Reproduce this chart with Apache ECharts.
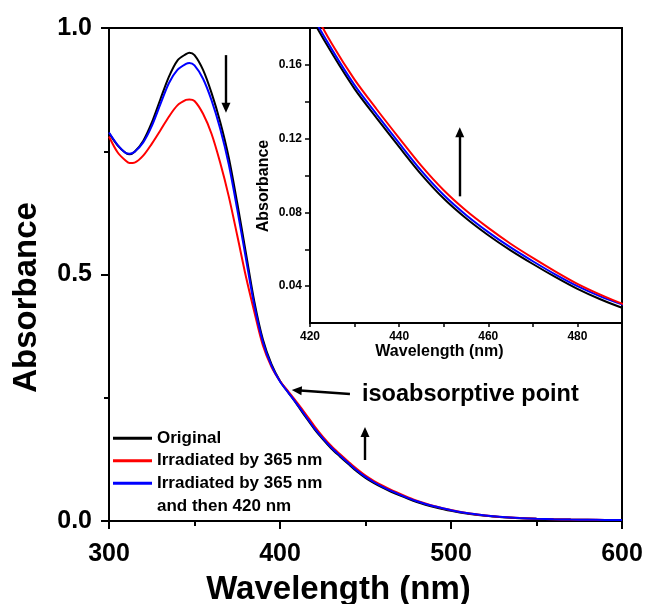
<!DOCTYPE html>
<html><head><meta charset="utf-8">
<script src="https://cdn.jsdelivr.net/npm/echarts@6/dist/echarts.min.js"></script>
<style>html,body{margin:0;padding:0;background:#fff}#c{width:646px;height:604px}</style>
</head><body><div id="c"></div>
<script>
// Wavelength (nm)
const wavelength = [300,305,310,312,315,320,325,330,335,340,345,347,350,355,360,365,370,375,380,385,390,395,400,405,410,415,420,425,430,435,440,445,450,455,460,465,470,475,480,485,490,500,510,520,530,540,550,560,570,580,590,600];
// Absorbance values
const original = [0.787,0.762,0.746,0.744,0.749,0.771,0.808,0.855,0.901,0.934,0.947,0.950,0.945,0.915,0.868,0.810,0.738,0.645,0.545,0.445,0.368,0.318,0.284,0.260,0.236,0.211,0.187,0.166,0.147,0.131,0.1155,0.1005,0.0875,0.0768,0.0676,0.0594,0.0520,0.0450,0.0385,0.0330,0.0283,0.0205,0.0145,0.0105,0.0078,0.0058,0.0045,0.0035,0.0028,0.0024,0.0021,0.0020];
const irr365 = [0.780,0.748,0.730,0.726,0.727,0.741,0.765,0.792,0.820,0.843,0.854,0.855,0.852,0.826,0.785,0.727,0.659,0.579,0.497,0.424,0.356,0.313,0.284,0.262,0.240,0.217,0.193,0.171,0.152,0.1358,0.1203,0.1052,0.0920,0.0810,0.0716,0.0630,0.0553,0.0480,0.0412,0.0355,0.0305,0.0222,0.0158,0.0113,0.0082,0.0060,0.0046,0.0036,0.0029,0.0025,0.0022,0.0021];
const irr365then420 = [0.788,0.763,0.746,0.745,0.749,0.768,0.801,0.845,0.888,0.915,0.927,0.929,0.924,0.897,0.853,0.796,0.724,0.632,0.534,0.437,0.363,0.315,0.283,0.260,0.237,0.213,0.189,0.168,0.149,0.133,0.1175,0.1025,0.0894,0.0786,0.0693,0.0610,0.0535,0.0464,0.0400,0.0346,0.0301,0.0220,0.0156,0.0112,0.0081,0.0060,0.0046,0.0036,0.0029,0.0025,0.0022,0.0021];
const seriesNames = ['Original','Irradiated by 365 nm','Irradiated by 365 nm and then 420 nm'];
const seriesColors = ['#000000','#ff0000','#0000ff'];
// Tick values
const mainXTicks = [300,400,500,600];
const mainYTicks = [0.0,0.5,1.0];
const insetXLabels = [420,440,460,480];
const insetXTicks = [420,430,440,450,460,470,480];
const insetYLabels = [0.04,0.08,0.12,0.16];
const insetYTicks = [0.04,0.06,0.08,0.10,0.12,0.14,0.16];
// Annotation arrows [x0,y0,x1,y1] in data units
const mainArrows = [[368.4,0.945,368.4,0.838],[440.9,0.2576,409.8,0.2651],[449.7,0.1237,449.7,0.1805]];
const insetArrows = [[453.6,0.0887,453.6,0.1234]];

const F = '"Liberation Sans", Arial, sans-serif';
const pairs = arr => wavelength.map((w,i)=>[w,arr[i]]);
const dataSets = [original, irr365, irr365then420];
const black = '#000';
const axisCommon = {
  axisLine:{show:true,onZero:false,lineStyle:{color:black,width:2}},
  splitLine:{show:false}
};
const arrowML = (arr) => ({
  silent:true, animation:false,
  symbol:['none','triangle'], symbolSize:[9,10],
  lineStyle:{color:black,width:2.4,type:'solid'},
  label:{show:false}, emphasis:{disabled:true},
  data: arr.map(a=>[{coord:[a[0],a[1]]},{coord:[a[2],a[3]]}])
});

const series = [];
dataSets.forEach((d,i)=>{
  series.push({
    name: seriesNames[i], type:'line', xAxisIndex:0, yAxisIndex:0,
    data: pairs(d), symbol:'none', smooth:0.3,
    lineStyle:{color:seriesColors[i],width:2}, itemStyle:{color:seriesColors[i]},
    z: 3+i,
    markLine: i===0 ? arrowML(mainArrows) : undefined
  });
});
[0,2,1].forEach((i,k)=>{
  series.push({
    name: seriesNames[i], type:'line', xAxisIndex:1, yAxisIndex:1,
    data: pairs(dataSets[i]), symbol:'none', smooth:0.3, clip:true,
    lineStyle:{color:seriesColors[i],width:2}, itemStyle:{color:seriesColors[i]},
    z: 3+k,
    markLine: k===0 ? arrowML(insetArrows) : undefined
  });
});

const chart = echarts.init(document.getElementById('c'));
chart.setOption({
  animation:false,
  backgroundColor:'#fff',
  textStyle:{fontFamily:F},
  grid:[
    {left:109,top:28,right:24,bottom:83,show:true,borderColor:black,borderWidth:2,backgroundColor:'transparent',containLabel:false,outerBoundsMode:'none'},
    {left:310,top:28,right:24,bottom:281,show:true,borderColor:black,borderWidth:2,backgroundColor:'transparent',containLabel:false,outerBoundsMode:'none'}
  ],
  xAxis:[
    Object.assign({}, axisCommon, {
      type:'value', gridIndex:0, min:mainXTicks[0], max:mainXTicks[mainXTicks.length-1], interval:100,
      axisTick:{show:true,length:8,lineStyle:{color:black,width:2}},
      minorTick:{show:true,splitNumber:2,length:5,lineStyle:{color:black,width:2}},
      axisLabel:{fontSize:25,fontWeight:'bold',color:black,fontFamily:F,margin:21},
      name:'Wavelength (nm)', nameLocation:'middle', nameGap:52,
      nameTextStyle:{fontSize:33,fontWeight:'bold',color:black,fontFamily:F,padding:[0,54,0,0]}
    }),
    Object.assign({}, axisCommon, {
      type:'value', gridIndex:1, min:420, max:490, interval:20,
      axisTick:{show:true,length:4,lineStyle:{color:black,width:1.5},customValues:insetXTicks},
      axisLabel:{fontSize:12,fontWeight:'bold',color:black,fontFamily:F,margin:8,customValues:insetXLabels},
      name:'Wavelength (nm)', nameLocation:'middle', nameGap:21,
      nameTextStyle:{fontSize:16,fontWeight:'bold',color:black,fontFamily:F,padding:[0,53,0,0]}
    })
  ],
  yAxis:[
    Object.assign({}, axisCommon, {
      type:'value', gridIndex:0, min:mainYTicks[0], max:mainYTicks[mainYTicks.length-1], interval:0.5,
      axisTick:{show:true,length:8,lineStyle:{color:black,width:2}},
      minorTick:{show:true,splitNumber:2,length:5,lineStyle:{color:black,width:2}},
      axisLabel:{fontSize:25,fontWeight:'bold',color:black,fontFamily:F,margin:17,formatter:v=>v.toFixed(1)},
      name:'Absorbance', nameLocation:'middle', nameGap:66,
      nameTextStyle:{fontSize:33,fontWeight:'bold',color:black,fontFamily:F,padding:[0,46,0,0]}
    }),
    Object.assign({}, axisCommon, {
      type:'value', gridIndex:1, min:0.02, max:0.18, interval:0.02,
      axisTick:{show:true,length:5,lineStyle:{color:black,width:1.5},customValues:insetYTicks},
      axisLabel:{fontSize:12,fontWeight:'bold',color:black,fontFamily:F,margin:8,customValues:insetYLabels,formatter:v=>v.toFixed(2)},
      name:'Absorbance', nameLocation:'middle', nameGap:38,
      nameTextStyle:{fontSize:16,fontWeight:'bold',color:black,fontFamily:F,padding:[0,21,0,0]}
    })
  ],
  legend:{
    show:true, orient:'vertical', left:113, top:427, padding:0, itemGap:0,
    itemWidth:39, itemHeight:3, selectedMode:false, icon:'rect',
    textStyle:{fontSize:17,fontWeight:'bold',color:black,fontFamily:F,lineHeight:22.5},
    data: seriesNames,
    formatter: name => name.replace(' and then 420 nm','')
  },
  graphic:[
    {type:'text', x:157, y:506, style:{text:'and then 420 nm', font:'bold 17px "Liberation Sans", Arial, sans-serif', fill:black, verticalAlign:'middle'}},
    {type:'text', x:362, y:395, style:{text:'isoabsorptive point', font:'bold 23.5px "Liberation Sans", Arial, sans-serif', fill:black, verticalAlign:'middle'}}
  ],
  series: series
});
</script></body></html>
